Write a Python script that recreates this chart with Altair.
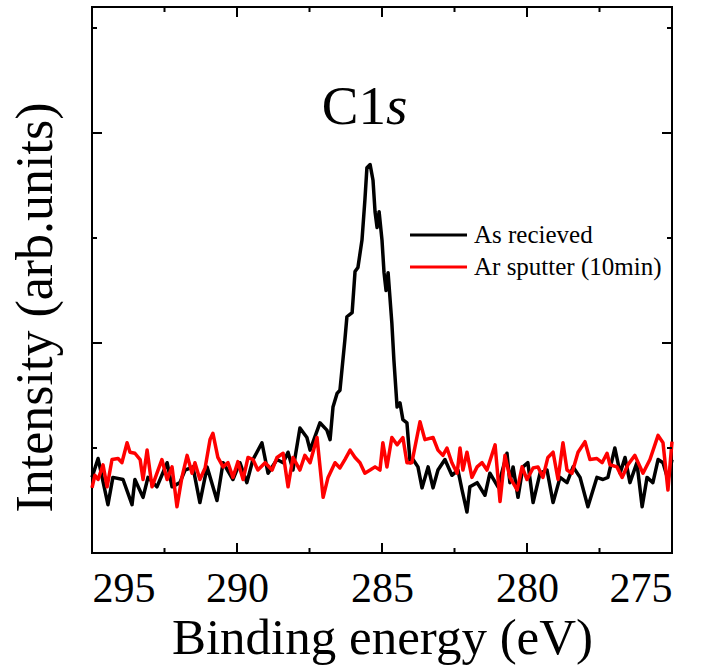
import altair as alt
import pandas as pd

# ---- data ----
energy_black = [295.00, 294.79, 294.45, 294.28, 293.93, 293.62, 293.52, 293.24, 293.07, 292.76,
                292.41, 292.24, 291.97, 291.79, 291.52, 291.28, 291.03, 290.69, 290.48, 290.14,
                289.90, 289.66, 289.45, 289.14, 288.93, 288.62, 288.41, 288.24, 288.07, 287.83,
                287.59, 287.48, 287.14, 286.90, 286.79, 286.69, 286.55, 286.45, 286.28, 286.21,
                286.03, 285.93, 285.83, 285.69, 285.59, 285.52, 285.41, 285.31, 285.24, 285.17,
                285.10, 285.00, 284.93, 284.86, 284.79, 284.66, 284.59, 284.48, 284.38, 284.28,
                284.14, 284.03, 283.93, 283.76, 283.62, 283.41, 283.24, 283.07, 282.83, 282.59,
                282.38, 282.24, 282.07, 281.97, 281.72, 281.45, 281.28, 281.00, 280.69, 280.59,
                280.48, 280.31, 280.14, 279.97, 279.79, 279.55, 279.31, 279.10, 278.86, 278.62,
                278.41, 278.17, 277.90, 277.59, 277.38, 277.21, 276.97, 276.79, 276.62, 276.45,
                276.21, 276.03, 275.86, 275.66, 275.48, 275.31, 275.14, 275.00]
int_black = [0.72, 0.90, 0.46, 0.72, 0.70, 0.46, 0.70, 0.53, 0.72, 0.63,
             0.86, 0.63, 0.67, 0.79, 0.82, 0.48, 0.82, 0.50, 0.86, 0.70,
             0.86, 0.67, 0.89, 1.05, 0.76, 0.89, 0.86, 0.96, 0.79, 1.19,
             1.10, 0.98, 1.24, 1.17, 1.08, 1.39, 1.52, 1.55, 2.03, 2.25,
             2.29, 2.68, 2.72, 2.98, 3.36, 3.67, 3.70, 3.55, 3.25, 3.10,
             3.25, 2.98, 2.67, 2.50, 2.67, 2.19, 1.84, 1.39, 1.43, 1.27,
             1.24, 0.86, 0.89, 0.82, 0.62, 0.82, 0.62, 0.79, 0.89, 0.74,
             0.79, 0.60, 0.39, 0.63, 0.67, 0.55, 0.76, 0.63, 0.95, 0.67,
             0.82, 0.53, 0.82, 0.86, 0.48, 0.76, 0.79, 0.48, 0.72, 0.67,
             0.82, 0.72, 0.44, 0.72, 0.70, 0.72, 1.00, 0.76, 0.91, 0.67,
             0.86, 0.44, 0.72, 0.67, 0.89, 0.86, 0.70, 0.89]

energy_red = [295.00, 294.90, 294.79, 294.62, 294.48, 294.31, 294.10, 293.97, 293.79, 293.69,
              293.52, 293.34, 293.24, 293.10, 292.93, 292.76, 292.59, 292.41, 292.24, 292.07,
              291.90, 291.72, 291.55, 291.45, 291.28, 291.10, 290.93, 290.83, 290.66, 290.48,
              290.31, 290.14, 289.97, 289.79, 289.62, 289.45, 289.28, 289.03, 288.79, 288.62,
              288.41, 288.24, 288.07, 287.83, 287.66, 287.48, 287.24, 287.03, 286.86, 286.62,
              286.45, 286.28, 286.10, 285.93, 285.76, 285.59, 285.41, 285.24, 285.07, 284.97,
              284.83, 284.66, 284.48, 284.28, 284.14, 283.97, 283.69, 283.52, 283.24, 283.07,
              282.90, 282.76, 282.59, 282.41, 282.31, 282.21, 282.07, 281.90, 281.72, 281.55,
              281.38, 281.10, 280.93, 280.76, 280.59, 280.34, 280.17, 280.00, 279.79, 279.62,
              279.45, 279.28, 279.10, 278.93, 278.76, 278.62, 278.45, 278.24, 278.00, 277.83,
              277.59, 277.41, 277.24, 277.14, 276.90, 276.72, 276.52, 276.28, 276.00, 275.76,
              275.48, 275.31, 275.14, 275.00]
int_red = [0.62, 0.74, 0.70, 0.84, 0.63, 0.89, 0.90, 0.86, 1.05, 0.96,
           0.95, 0.89, 0.70, 0.98, 0.63, 0.76, 0.89, 0.70, 0.82, 0.44,
           0.72, 0.93, 0.76, 0.86, 0.70, 0.81, 1.08, 1.14, 0.91, 0.82,
           0.86, 0.72, 0.87, 0.70, 0.91, 0.89, 0.79, 0.86, 0.79, 0.91,
           0.95, 0.63, 0.91, 0.79, 0.93, 0.86, 1.10, 0.53, 0.72, 0.86,
           0.81, 0.89, 0.98, 0.91, 0.86, 0.76, 0.79, 0.82, 0.79, 1.05,
           0.82, 1.10, 1.03, 1.10, 0.86, 0.86, 1.25, 1.08, 1.10, 0.98,
           0.93, 1.00, 0.86, 0.76, 1.00, 0.79, 0.96, 0.72, 0.82, 0.86,
           0.79, 1.03, 0.49, 0.93, 0.72, 0.60, 0.82, 0.70, 0.81, 0.82,
           0.72, 0.91, 0.96, 0.70, 1.05, 0.79, 0.76, 0.96, 1.06, 0.89,
           0.90, 0.86, 0.95, 0.84, 0.82, 0.72, 0.84, 0.93, 0.76, 0.89,
           1.12, 1.05, 0.60, 1.06]

series_names = ["As recieved", "Ar sputter (10min)"]
x_major = [295, 290, 285, 280, 275]
x_minor = [292.5, 287.5, 282.5, 277.5]
y_major = [2, 4]
y_minor = [1, 3, 5]
annot_E = [284.86]
annot_I = [4.09]

# ---- chart ----
SERIF = "Liberation Serif"
W, H = 580, 546

df_b = pd.DataFrame({"E": energy_black, "I": int_black})
df_r = pd.DataFrame({"E": energy_red, "I": int_red})
xscale = alt.Scale(domain=[275, 295], reverse=True, nice=False, zero=False)
yscale = alt.Scale(domain=[0, 5.2], nice=False, zero=False)

x_axis = alt.Axis(values=x_major, format="d", labelFlush=True, ticks=False, tickSize=0,
                  domain=False, grid=False, labelFont=SERIF, labelFontSize=42,
                  labelColor="black", labelBaseline="alphabetic", labelPadding=48,
                  title="Binding energy (eV)", titleFont=SERIF, titleFontSize=51,
                  titleFontWeight="normal", titleColor="black",
                  titleBaseline="alphabetic", titleY=100)
y_axis = alt.Axis(labels=False, ticks=False, tickSize=0, domain=False, grid=False,
                  title="Intensity (arb.units)", titleFont=SERIF, titleFontSize=52,
                  titleFontWeight="normal", titleColor="black", titleAngle=270,
                  titleBaseline="alphabetic", titleX=-41, titleY=300)

X = alt.X("E:Q", scale=xscale, axis=x_axis)
Y = alt.Y("I:Q", scale=yscale, axis=y_axis)

black = alt.Chart(df_b).mark_line(color="black", strokeWidth=3.5, strokeJoin="round").encode(
    x=X, y=Y)
red = alt.Chart(df_r).mark_line(color="#ff0000", strokeWidth=3.5, strokeJoin="round").encode(
    x=X, y=Y)

def xticks(vals, length):
    d = pd.DataFrame({"E": vals})
    bot = alt.Chart(d).mark_rule(color="black", strokeWidth=2).encode(
        x=X, y=alt.value(H), y2=alt.value(H - length))
    top = alt.Chart(d).mark_rule(color="black", strokeWidth=2).encode(
        x=X, y=alt.value(0), y2=alt.value(length))
    return [bot, top]

def yticks(vals, length):
    d = pd.DataFrame({"I": vals})
    left = alt.Chart(d).mark_rule(color="black", strokeWidth=2).encode(
        y=Y, x=alt.value(0), x2=alt.value(length))
    right = alt.Chart(d).mark_rule(color="black", strokeWidth=2).encode(
        y=Y, x=alt.value(W), x2=alt.value(W - length))
    return [left, right]

ticks = xticks(x_major, 10) + xticks(x_minor, 5) + yticks(y_major, 10) + yticks(y_minor, 5)

adf = pd.DataFrame({"E": annot_E, "I": annot_I})
c1 = alt.Chart(adf).mark_text(text="C1", align="right", baseline="alphabetic",
                              font=SERIF, fontSize=55, color="black").encode(x=X, y=Y)
s_it = alt.Chart(adf).mark_text(text="s", align="left", baseline="alphabetic",
                                font=SERIF, fontSize=55, fontStyle="italic",
                                color="black").encode(x=X, y=Y)

ldf = pd.DataFrame({"s": series_names})
leg = []
for i, (name, col) in enumerate(zip(series_names, ["black", "#ff0000"])):
    ypos = 228 + 32 * i
    leg.append(alt.Chart(ldf).transform_filter(alt.datum.s == name).mark_rule(
        color=col, strokeWidth=3).encode(x=alt.value(318), x2=alt.value(375), y=alt.value(ypos)))
    leg.append(alt.Chart(ldf).transform_filter(alt.datum.s == name).mark_text(
        align="left", baseline="alphabetic", font=SERIF, fontSize=25, color="black").encode(
        x=alt.value(382), y=alt.value(ypos + 8), text="s:N"))

chart = alt.layer(black, red, *ticks, c1, s_it, *leg).properties(
    width=W, height=H,
    background="white",
    autosize=alt.AutoSizeParams(type="none"),
    padding={"left": 92, "top": 7, "right": 38, "bottom": 115},
).configure_view(stroke="black", strokeWidth=2)

chart.save("out.html", embed_options={"renderer": "svg", "actions": False})
